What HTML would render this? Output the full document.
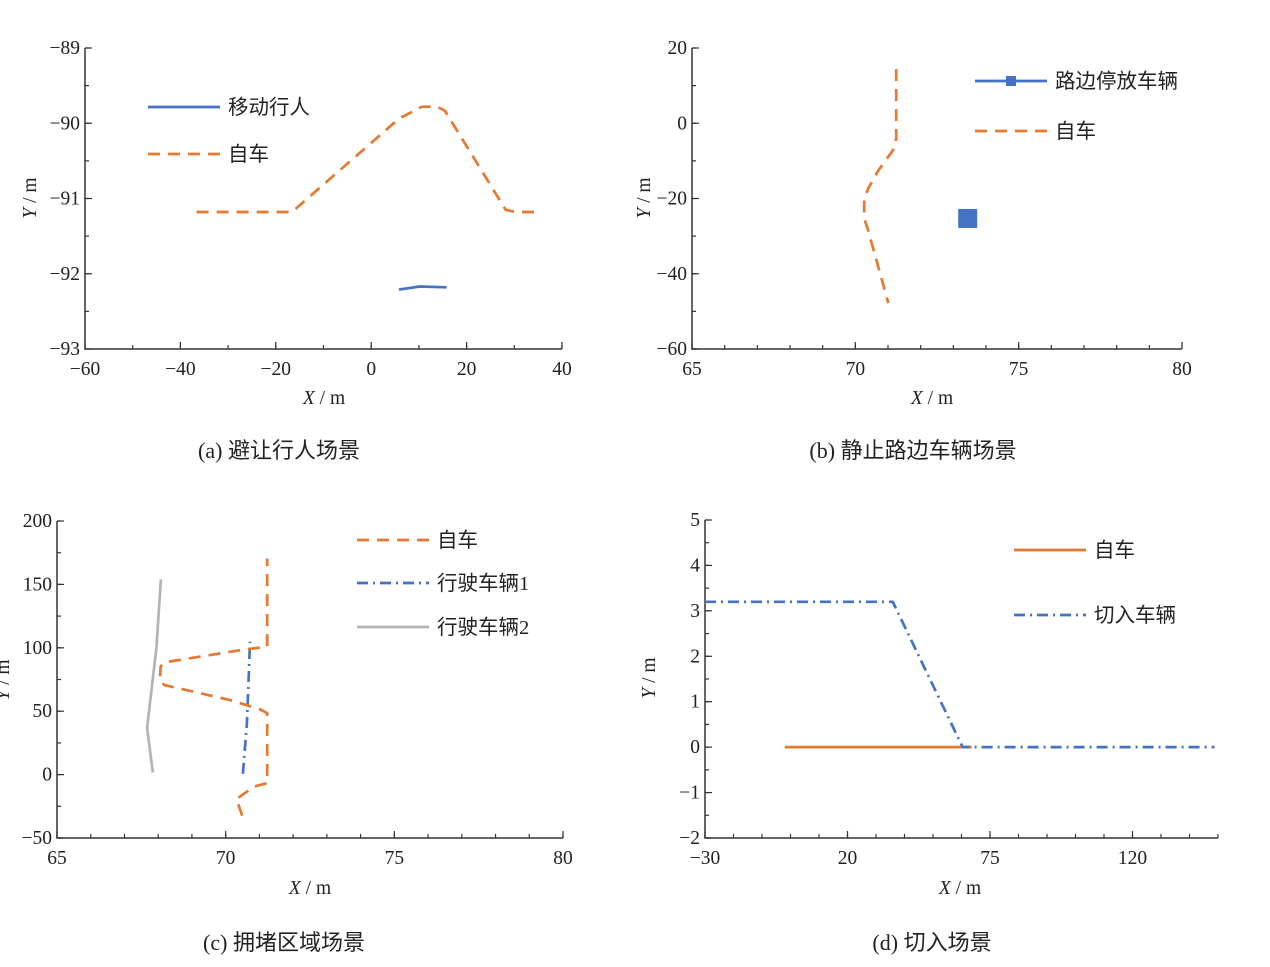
<!DOCTYPE html>
<html><head><meta charset="utf-8">
<style>
body{margin:0;background:#fff;}
svg{display:block;}
text{font-family:"Liberation Serif","Noto Serif CJK SC","Noto Sans CJK SC",serif;fill:#222;}
.cjk{font-family:"Liberation Serif","Noto Sans CJK SC",sans-serif;}
</style></head>
<body>
<svg id="chart" width="1270" height="967" xmlns="http://www.w3.org/2000/svg"></svg>
<script>
// ---- Panel (a) data ----
const aEgoX = [-36.6, -16.6, 5.8, 10.6, 13.8, 15.4, 28.2, 30.2, 35.8];
const aEgoY = [-91.18, -91.18, -89.94, -89.78, -89.78, -89.83, -91.15, -91.18, -91.18];
const aPedX = [5.8, 10.2, 15.8];
const aPedY = [-92.21, -92.17, -92.18];
const aXTicks = [-60, -40, -20, 0, 20, 40];
const aYTicks = [-93, -92, -91, -90, -89];
// ---- Panel (b) data ----
const bEgoX = [71.25, 71.25, 71.15, 70.68, 70.39, 70.27, 70.27, 70.39, 71.01];
const bEgoY = [14.4, -4.1, -7.2, -12.9, -17.4, -20, -25.3, -28.4, -47.8];
const bParkX = [73.44];
const bParkY = [-25.3];
const bXTicks = [65, 70, 75, 80];
const bYTicks = [-60, -40, -20, 0, 20];
// ---- Panel (c) data ----
const cEgoX = [70.49, 70.32, 70.85, 71.23, 71.23, 71.23, 71.02, 70.11, 68.18, 68.05, 68.07, 68.18, 70.57, 71.23, 71.23];
const cEgoY = [-32.4, -19.3, -9.3, -6.7, -1, 48.4, 51.5, 58.9, 70.7, 74.6, 85, 88.5, 98.7, 100.8, 170.4];
const cV1X = [70.51, 70.63, 70.68, 70.72];
const cV1Y = [0.6, 40.5, 74.6, 104.8];
const cV2X = [67.84, 67.67, 67.95, 68.08];
const cV2Y = [1.7, 37.1, 100.8, 154];
const cXTicks = [65, 70, 75, 80];
const cYTicks = [-50, 0, 50, 100, 150, 200];
// ---- Panel (d) data ----
const dEgoX = [-2, 63.6];
const dEgoY = [0, 0];
const dCutX = [-30, 35.9, 60.4, 148.8];
const dCutY = [3.2, 3.2, 0, 0];
const dXTicks = [-30, 20, 70, 120];
const dXTickLabels = ['\u221230', '20', '75', '120'];
const dYTicks = [-2, -1, 0, 1, 2, 3, 4, 5];

const NS = 'http://www.w3.org/2000/svg';
const svg = document.getElementById('chart');
const ORANGE = '#E8782F', BLUE = '#4472C4', GRAY = '#B4B4B4';
const DASH = '12 8', DASHDOT = '11 5 2 5';

function mk(tag, attrs, parent) {
  const e = document.createElementNS(NS, tag);
  for (const k in attrs) e.setAttribute(k, attrs[k]);
  (parent || svg).appendChild(e);
  return e;
}
function fmt(v) { return v < 0 ? '\u2212' + Math.abs(v) : String(v); }

function panel(name, box, xd, yd, xTicks, yTicks, xMinor, yMinor, xLabels) {
  const g = mk('g', {});
  
  
  const sx = v => box.l + (v - xd[0]) / (xd[1] - xd[0]) * (box.r - box.l);
  const sy = v => box.b - (v - yd[0]) / (yd[1] - yd[0]) * (box.b - box.t);
  const ax = mk('path', {d: `M${box.l},${box.t} V${box.b} H${box.r}`, stroke: '#333', 'stroke-width': 1.5, fill: 'none'}, g);
  
  
  for (let v = xd[0]; v <= xd[1] + 1e-9; v += xMinor) {
    mk('line', {x1: sx(v), x2: sx(v), y1: box.b, y2: box.b - 4, stroke: '#333', 'stroke-width': 1.2}, g);
  }
  for (let v = yd[0]; v <= yd[1] + 1e-9; v += yMinor) {
    mk('line', {x1: box.l, x2: box.l + 4, y1: sy(v), y2: sy(v), stroke: '#333', 'stroke-width': 1.2}, g);
  }
  xTicks.forEach((v, i) => {
    mk('line', {x1: sx(v), x2: sx(v), y1: box.b, y2: box.b - 7, stroke: '#333', 'stroke-width': 1.2}, g);
    const t = mk('text', {x: sx(v), y: box.b + 26, 'text-anchor': 'middle', 'font-size': 19.5}, g);
    t.textContent = xLabels ? xLabels[i] : fmt(v);
    
    
  });
  yTicks.forEach(v => {
    mk('line', {x1: box.l, x2: box.l + 7, y1: sy(v), y2: sy(v), stroke: '#333', 'stroke-width': 1.2}, g);
    const t = mk('text', {x: box.l - 5, y: sy(v) + 6, 'text-anchor': 'end', 'font-size': 19.5}, g);
    t.textContent = fmt(v);
    
    
  });
  return {g, sx, sy};
}
function series(p, xs, ys, color, dash, name) {
  const d = xs.map((x, i) => (i ? 'L' : 'M') + p.sx(x).toFixed(1) + ',' + p.sy(ys[i]).toFixed(1)).join(' ');
  const e = mk('path', {d, stroke: color, 'stroke-width': 2.7, fill: 'none', 'stroke-dasharray': dash || 'none', 'stroke-linejoin': 'round'}, p.g);
  
  
}
function legend(g, x, y, color, dash, label, name, marker) {
  const l = mk('line', {x1: x, x2: x + 72, y1: y, y2: y, stroke: color, 'stroke-width': 2.7, 'stroke-dasharray': dash || 'none'}, g);
  
  
  if (marker) mk('rect', {x: x + 31, y: y - 5, width: 10, height: 10, fill: color}, g);
  const t = mk('text', {x: x + 80, y: y + 7, 'font-size': 20.5, class: 'cjk'}, g);
  t.textContent = label;
  
  
}
function txt(x, y, html, name, rot, fs) {
  const t = mk('text', {x, y, 'text-anchor': 'middle', 'font-size': fs || 19.5, class: 'cjk'});
  if (rot) t.setAttribute('transform', `rotate(-90 ${x} ${y})`);
  t.innerHTML = html;
  
  
}

// (a)
const pa = panel('panel-a', {l: 85, r: 562, t: 48, b: 349}, [-60, 40], [-93, -89], aXTicks, aYTicks, 10, 0.5);
series(pa, aEgoX, aEgoY, ORANGE, DASH, 'ego-path-a');
series(pa, aPedX, aPedY, BLUE, null, 'pedestrian-path');
legend(pa.g, 148, 107, BLUE, null, '移动行人', 'legend-pedestrian');
legend(pa.g, 148, 154, ORANGE, DASH, '自车', 'legend-ego-a');
txt(324, 404, '<tspan font-style="italic">X</tspan> / m', 'x-axis-title-a');
txt(36, 198, '<tspan font-style="italic">Y</tspan> / m', 'y-axis-title-a', true);
txt(279, 458, '(a)  避让行人场景', 'caption-a', false, 22);

// (b)
const pb = panel('panel-b', {l: 692, r: 1182, t: 48, b: 349}, [65, 80], [-60, 20], bXTicks, bYTicks, 1, 10);
series(pb, bEgoX, bEgoY, ORANGE, DASH, 'ego-path-b');
bParkX.forEach((x, i) => {
  const r = mk('rect', {x: pb.sx(x) - 9.5, y: pb.sy(bParkY[i]) - 9.5, width: 19, height: 19, fill: BLUE}, pb.g);
  
  
});
legend(pb.g, 975, 81, BLUE, null, '路边停放车辆', 'legend-parked', true);
legend(pb.g, 975, 131, ORANGE, DASH, '自车', 'legend-ego-b');
txt(932, 404, '<tspan font-style="italic">X</tspan> / m', 'x-axis-title-b');
txt(650, 198, '<tspan font-style="italic">Y</tspan> / m', 'y-axis-title-b', true);
txt(913, 458, '(b)  静止路边车辆场景', 'caption-b', false, 22);

// (c)
const pc = panel('panel-c', {l: 57, r: 563, t: 521, b: 838}, [65, 80], [-50, 200], cXTicks, cYTicks, 1, 25);
series(pc, cV2X, cV2Y, GRAY, null, 'vehicle2-path');
series(pc, cV1X, cV1Y, BLUE, DASHDOT, 'vehicle1-path');
series(pc, cEgoX, cEgoY, ORANGE, DASH, 'ego-path-c');
legend(pc.g, 357, 540, ORANGE, DASH, '自车', 'legend-ego-c');
legend(pc.g, 357, 583, BLUE, DASHDOT, '行驶车辆1', 'legend-vehicle1');
legend(pc.g, 357, 627, GRAY, null, '行驶车辆2', 'legend-vehicle2');
txt(310, 894, '<tspan font-style="italic">X</tspan> / m', 'x-axis-title-c');
txt(9, 680, '<tspan font-style="italic">Y</tspan> / m', 'y-axis-title-c', true);
txt(284, 950, '(c)  拥堵区域场景', 'caption-c', false, 22);

// (d)
const pd = panel('panel-d', {l: 705, r: 1218, t: 520, b: 838}, [-30, 150], [-2, 5], dXTicks, dYTicks, 10, 0.5, dXTickLabels);
series(pd, dEgoX, dEgoY, ORANGE, null, 'ego-path-d');
series(pd, dCutX, dCutY, BLUE, DASHDOT, 'cut-in-path');
legend(pd.g, 1014, 550, ORANGE, null, '自车', 'legend-ego-d');
legend(pd.g, 1014, 615, BLUE, DASHDOT, '切入车辆', 'legend-cut-in');
txt(960, 894, '<tspan font-style="italic">X</tspan> / m', 'x-axis-title-d');
txt(655, 678, '<tspan font-style="italic">Y</tspan> / m', 'y-axis-title-d', true);
txt(932, 950, '(d)  切入场景', 'caption-d', false, 22);
</script>
</body></html>
